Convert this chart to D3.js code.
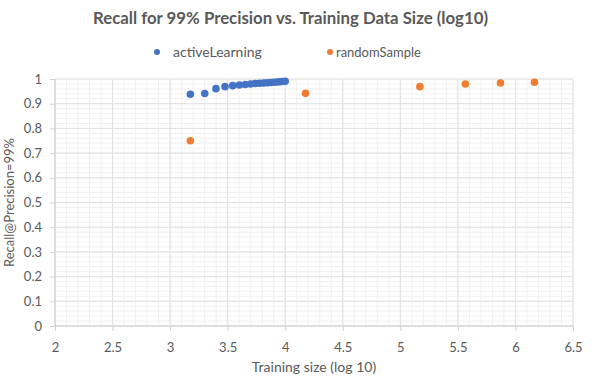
<!DOCTYPE html>
<html>
<head>
<meta charset="utf-8">
<script src="https://cdn.jsdelivr.net/npm/d3@7"></script>
<style>
  body { margin: 0; background: #fff; }
  text { font-family: Lato, "Open Sans", sans-serif; fill: #595959; }
</style>
</head>
<body>
<div id="chart"></div>
<script>
// data
var activeX = [3.176, 3.301, 3.398, 3.477, 3.544, 3.602, 3.653, 3.699, 3.740, 3.778, 3.813, 3.845, 3.875, 3.903, 3.929, 3.954, 3.978, 4.000];
var activeY = [0.938, 0.941, 0.961, 0.969, 0.973, 0.976, 0.978, 0.980, 0.982, 0.983, 0.984, 0.985, 0.986, 0.987, 0.988, 0.989, 0.990, 0.991];
var randomX = [3.176, 4.176, 5.170, 5.565, 5.870, 6.165];
var randomY = [0.750, 0.942, 0.969, 0.980, 0.984, 0.987];
var xTicks = [2, 2.5, 3, 3.5, 4, 4.5, 5, 5.5, 6, 6.5];
var yTicks = [0, 0.1, 0.2, 0.3, 0.4, 0.5, 0.6, 0.7, 0.8, 0.9, 1];
var seriesNames = ["activeLearning", "randomSample"];
var colors = ["#4472C4", "#ED7D31"];

var W = 594, H = 388;
var margin = {top: 79, right: 21, bottom: 62, left: 55},
    width = W - margin.left - margin.right,
    height = H - margin.top - margin.bottom;

var svg = d3.select("#chart").append("svg")
    .attr("width", W)
    .attr("height", H);

var g = svg.append("g")
    .attr("transform", "translate(" + margin.left + "," + margin.top + ")");

var x = d3.scaleLinear().domain([2, 6.5]).range([0, width]);
var y = d3.scaleLinear().domain([0, 1]).range([height, 0]);

// minor grid
g.append("g").selectAll("line")
  .data(d3.range(0, 46).map(function(i) { return 2 + i * 0.1; }))
  .enter().append("line")
    .attr("x1", function(d) { return x(d); })
    .attr("x2", function(d) { return x(d); })
    .attr("y1", 0).attr("y2", height)
    .attr("stroke", "#f0f0f0");
g.append("g").selectAll("line")
  .data(d3.range(0, 51).map(function(i) { return i * 0.02; }))
  .enter().append("line")
    .attr("y1", function(d) { return y(d); })
    .attr("y2", function(d) { return y(d); })
    .attr("x1", 0).attr("x2", width)
    .attr("stroke", "#f0f0f0");

// major grid
g.append("g").selectAll("line")
  .data(xTicks)
  .enter().append("line")
    .attr("x1", function(d) { return x(d); })
    .attr("x2", function(d) { return x(d); })
    .attr("y1", 0).attr("y2", height)
    .attr("stroke", "#e0e0e0");
g.append("g").selectAll("line")
  .data(yTicks)
  .enter().append("line")
    .attr("y1", function(d) { return y(d); })
    .attr("y2", function(d) { return y(d); })
    .attr("x1", 0).attr("x2", width)
    .attr("stroke", "#e0e0e0");

// axes
var xAxis = g.append("g")
    .attr("transform", "translate(0," + height + ")")
    .call(d3.axisBottom(x).tickValues(xTicks).tickSize(5).tickPadding(12)
      .tickFormat(d3.format("")));
var yAxis = g.append("g")
    .call(d3.axisLeft(y).tickValues(yTicks).tickSize(5).tickPadding(8)
      .tickFormat(d3.format("")));
[xAxis, yAxis].forEach(function(a) {
  a.selectAll("path, line").attr("stroke", "#d0d0d0");
  a.selectAll("text").style("font-family", "Lato, sans-serif")
    .style("font-size", "13px").attr("fill", "#666");
});
xAxis.select(".domain").attr("d", "M0,0H" + width);
yAxis.select(".domain").attr("d", "M0," + height + "V0");

// points
g.append("g").selectAll("circle")
  .data(d3.zip(randomX, randomY))
  .enter().append("circle")
    .attr("cx", function(d) { return x(d[0]); })
    .attr("cy", function(d) { return y(d[1]); })
    .attr("r", 3.8)
    .attr("fill", colors[1]);
g.append("g").selectAll("circle")
  .data(d3.zip(activeX, activeY))
  .enter().append("circle")
    .attr("cx", function(d) { return x(d[0]); })
    .attr("cy", function(d) { return y(d[1]); })
    .attr("r", 3.8)
    .attr("fill", colors[0]);

// title
svg.append("text")
  .attr("x", 290.5).attr("y", 24)
  .attr("text-anchor", "middle")
  .style("font-size", "16.8px")
  .style("font-weight", "bold")
  .text("Recall for 99% Precision vs. Training Data Size (log10)");

// legend
var legX = [157, 330];
seriesNames.forEach(function(name, i) {
  svg.append("circle")
    .attr("cx", legX[i]).attr("cy", 52).attr("r", 3)
    .attr("fill", colors[i]);
  svg.append("text")
    .attr("x", legX[i] + (i == 0 ? 16 : 6)).attr("y", 57)
    .style("font-size", i == 0 ? "14px" : "13px")
    .text(name);
});

// axis titles
svg.append("text")
  .attr("x", margin.left + width / 2).attr("y", 372)
  .attr("text-anchor", "middle")
  .style("font-size", "14px")
  .text("Training size (log 10)");
svg.append("text")
  .attr("transform", "rotate(-90)")
  .attr("x", -(margin.top + height / 2)).attr("y", 14)
  .attr("text-anchor", "middle")
  .style("font-size", "13px")
  .text("Recall@Precision=99%");
</script>
</body>
</html>
